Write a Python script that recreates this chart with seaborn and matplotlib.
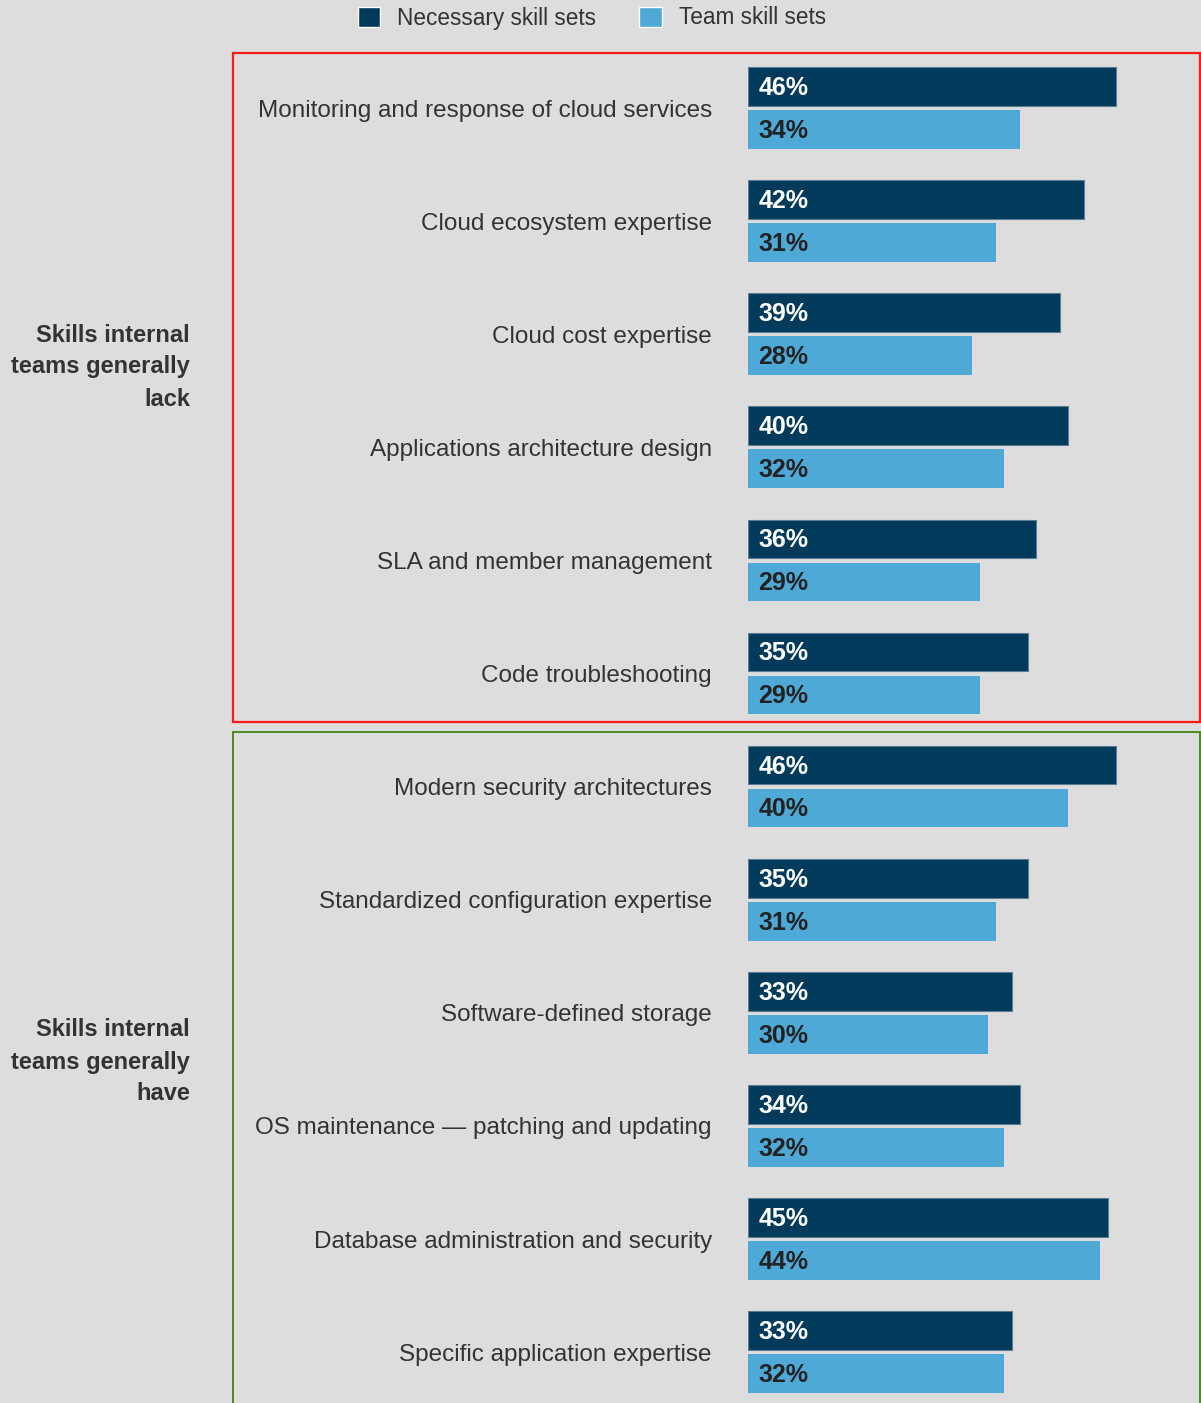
import matplotlib
matplotlib.use("Agg")
import matplotlib.pyplot as plt
from matplotlib.patches import Rectangle, Patch
import pandas as pd
import seaborn as sns

# Survey results: share of respondents (%)
skills = [
    "Monitoring and response of cloud services",
    "Cloud ecosystem expertise",
    "Cloud cost expertise",
    "Applications architecture design",
    "SLA and member management",
    "Code troubleshooting",
    "Modern security architectures",
    "Standardized configuration expertise",
    "Software-defined storage",
    "OS maintenance \u2014 patching and updating",
    "Database administration and security",
    "Specific application expertise",
]
necessary = [46, 42, 39, 40, 36, 35, 46, 35, 33, 34, 45, 33]
team = [34, 31, 28, 32, 29, 29, 40, 31, 30, 32, 44, 32]
series_names = ["Necessary skill sets", "Team skill sets"]
group_labels = ["Skills internal\nteams generally\nlack", "Skills internal\nteams generally\nhave"]

DARK = "#023a5c"
LIGHT = "#4fa9d7"
BG = "#dddddd"
TEXT = "#333333"

sns.set_theme(style="white")
plt.rcParams["font.family"] = ["Liberation Sans", "DejaVu Sans"]

df = pd.DataFrame({
    "skill": skills * 2,
    "value": necessary + team,
    "series": [series_names[0]] * len(skills) + [series_names[1]] * len(skills),
})

W, H = 1201, 1403
fig = plt.figure(figsize=(W / 100, H / 100), dpi=100, facecolor=BG)
ax = fig.add_axes([748 / W, 0, 1 - 748 / W, 1])
ax.set_facecolor(BG)

sns.barplot(
    data=df, y="skill", x="value", hue="series", orient="h",
    palette=[DARK, LIGHT], width=0.76, gap=0.1, dodge=True,
    legend=False, ax=ax, saturation=1, linewidth=0,
)

ax.set_xlim(0, (W - 748) / 8)
ax.set_ylim(11.45, -0.955)
ax.set_xlabel("")
ax.set_ylabel("")
ax.set_xticks([])
for s in ax.spines.values():
    s.set_visible(False)
ax.tick_params(axis="y", length=0, pad=26, labelsize=17.5, labelcolor=TEXT)

# thin outline on the dark bars
for p in ax.containers[0]:
    p.set_edgecolor("#5b7d94")
    p.set_linewidth(0.8)

# value labels at the base of each bar
for cont, vals, col in zip(ax.containers, [necessary, team], ["white", "#222222"]):
    for p, v in zip(cont, vals):
        ax.annotate(f"{v}%", xy=(0, p.get_y() + p.get_height() / 2),
                    xytext=(7.5, -1), textcoords="offset points",
                    ha="left", va="center", fontsize=18, fontweight="bold",
                    color=col)

# group boxes
fig.add_artist(Rectangle((233 / W, 1 - 722 / H), (1200 - 233) / W, (722 - 53) / H,
                         transform=fig.transFigure, fill=False, ec="#ff1a1a", lw=1.6))
fig.add_artist(Rectangle((233 / W, -0.05), (1200 - 233) / W, 1 - 732 / H + 0.05,
                         transform=fig.transFigure, fill=False, ec="#4a8a2a", lw=1.4))

# group labels
for label, yc in zip(group_labels, [367, 1062]):
    fig.text(190 / W, 1 - yc / H, label, ha="right", va="center",
             fontsize=17, fontweight="bold", color=TEXT, linespacing=1.5)

# legend
handles = [Patch(facecolor=DARK, label=series_names[0]),
           Patch(facecolor=LIGHT, label=series_names[1])]
fig.legend(handles=handles, loc="center", bbox_to_anchor=(592 / W, 1 - 18 / H),
           ncol=2, frameon=False, fontsize=16.3, labelcolor=TEXT,
           handlelength=0.98, handleheight=0.98, handletextpad=0.75,
           columnspacing=1.9)

fig.savefig("out.png", dpi=100, facecolor=BG)
